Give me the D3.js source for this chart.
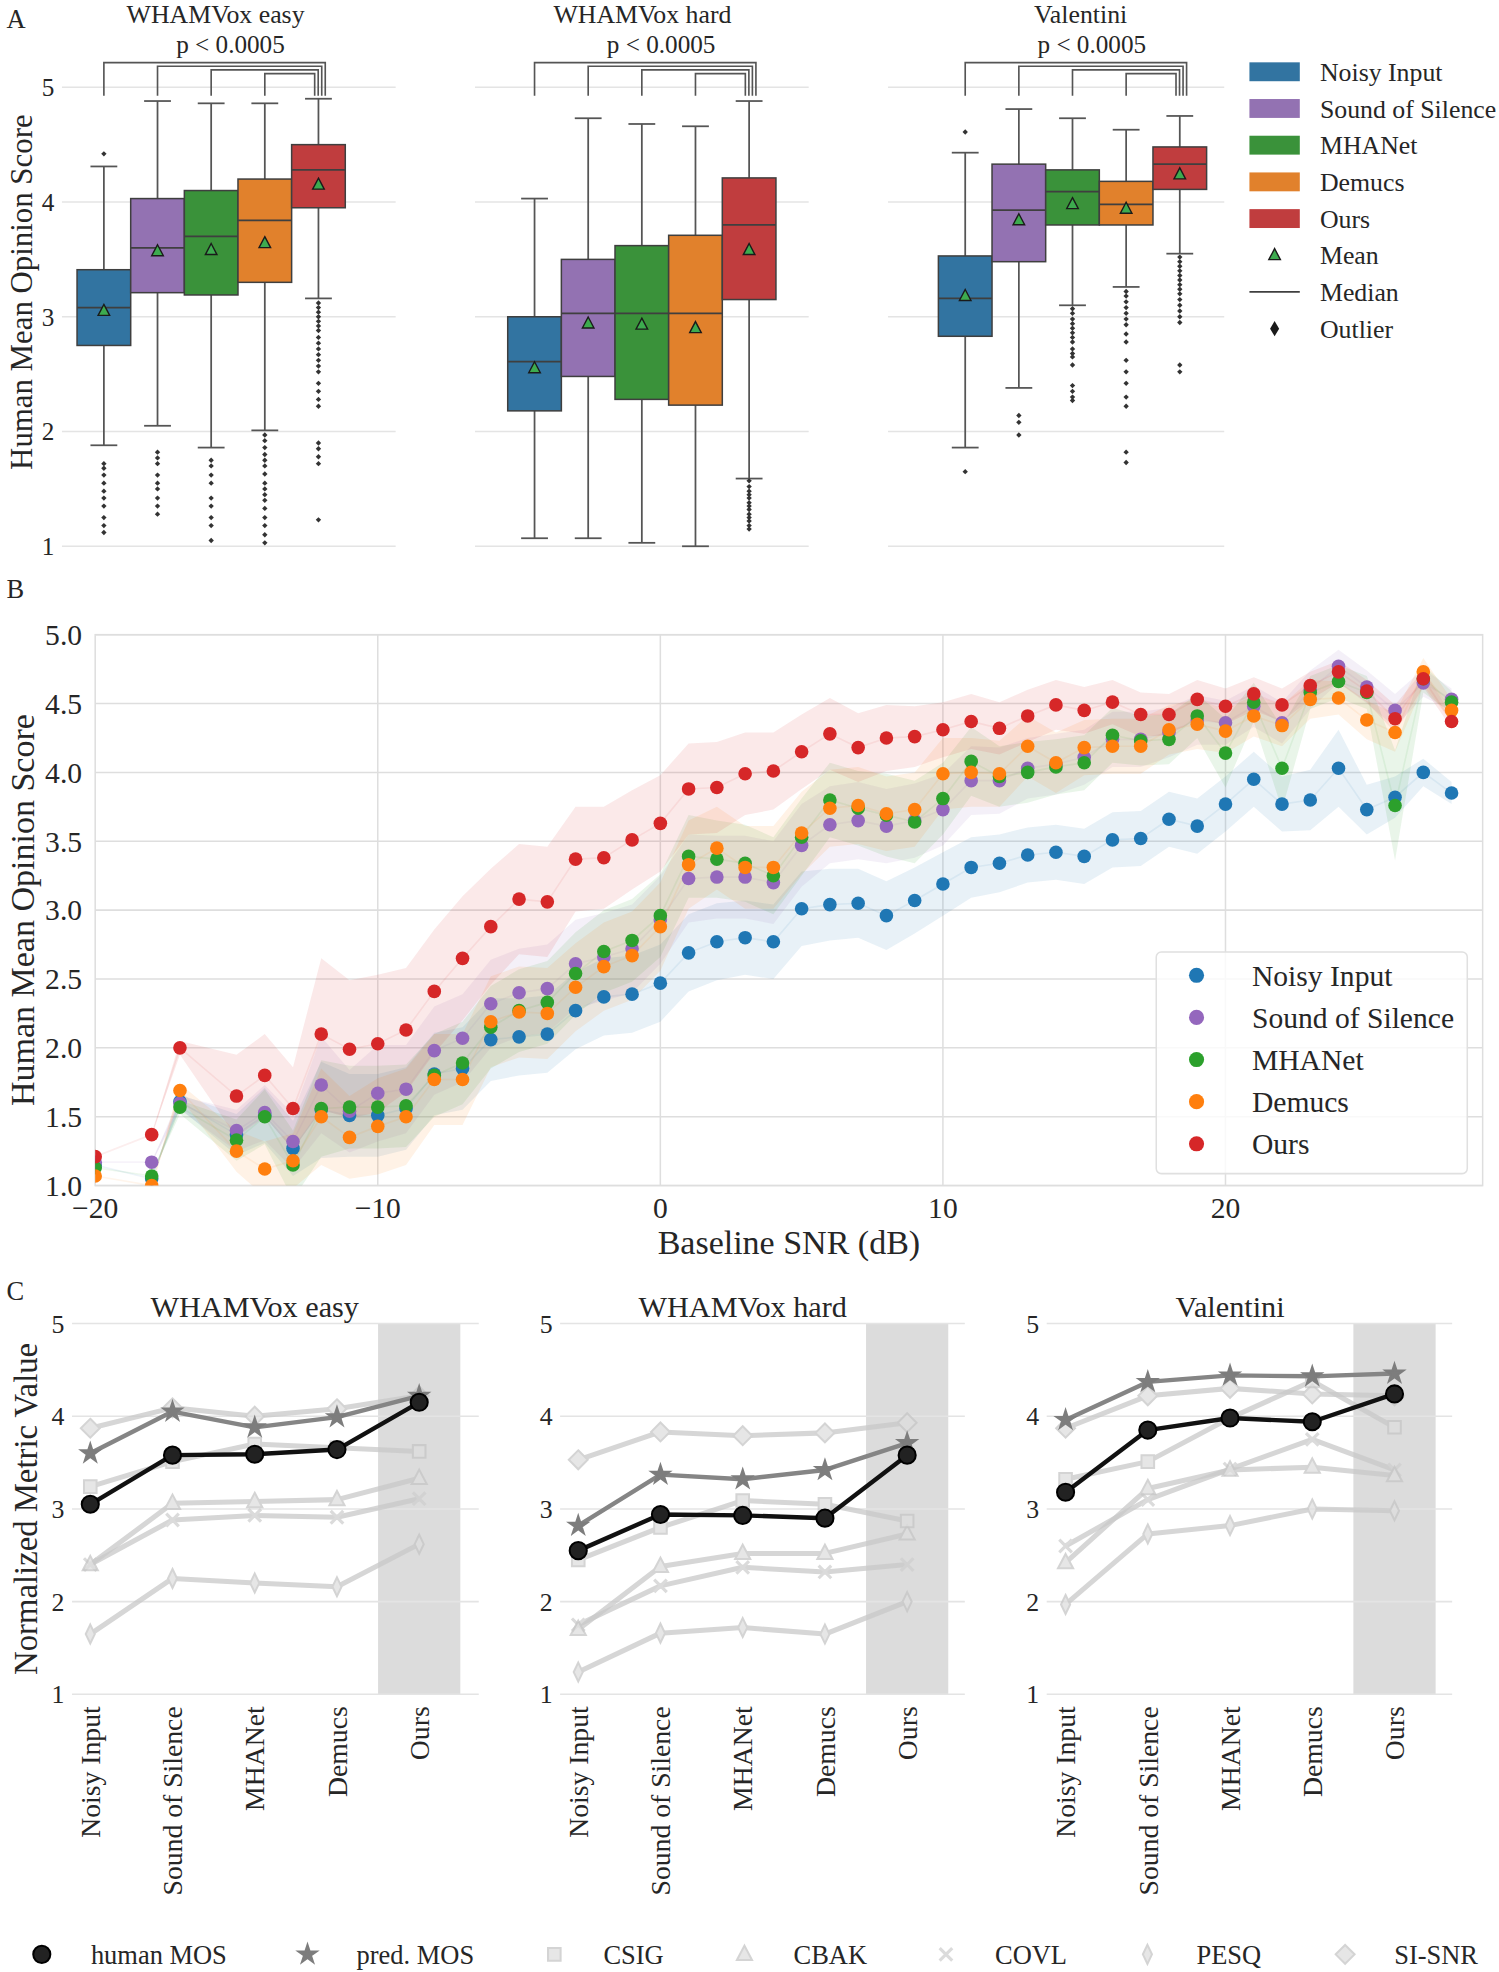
<!DOCTYPE html>
<html>
<head>
<meta charset="utf-8">
<script src="https://cdn.jsdelivr.net/npm/d3@7"></script>
<style>
  body { margin: 0; background: #fff; }
  svg { display: block; font-family: "Liberation Serif", "Times New Roman", serif; }
</style>
</head>
<body>
<div id="fig"></div>
<script>
/* Three-panel MOS figure: A box plots, B MOS vs SNR, C metric profiles */

// ---------- data ----------
const METHODS = ["Noisy Input", "Sound of Silence", "MHANet", "Demucs", "Ours"];
const DATASETS = ["WHAMVox easy", "WHAMVox hard", "Valentini"];

// box stats per method: [whisker low, q1, median, q3, whisker high, mean]
const boxEasy = [
  [1.88, 2.75, 3.08, 3.41, 4.31, 3.05],
  [2.05, 3.21, 3.60, 4.03, 4.88, 3.57],
  [1.86, 3.19, 3.70, 4.10, 4.86, 3.58],
  [2.01, 3.30, 3.84, 4.20, 4.86, 3.64],
  [3.16, 3.95, 4.28, 4.50, 4.90, 4.15]
];
const boxHard = [
  [1.07, 2.18, 2.61, 3.00, 4.03, 2.55],
  [1.07, 2.48, 3.03, 3.50, 4.73, 2.94],
  [1.03, 2.28, 3.03, 3.62, 4.68, 2.93],
  [1.00, 2.23, 3.03, 3.71, 4.66, 2.90],
  [1.59, 3.15, 3.80, 4.21, 4.88, 3.58]
];
const boxValentini = [
  [1.86, 2.83, 3.16, 3.53, 4.43, 3.18],
  [2.38, 3.48, 3.93, 4.33, 4.81, 3.84],
  [3.10, 3.80, 4.09, 4.28, 4.73, 3.98],
  [3.26, 3.80, 3.98, 4.18, 4.63, 3.94],
  [3.55, 4.11, 4.33, 4.48, 4.75, 4.24]
];
const outEasy = [
  [4.42, 1.72, 1.68, 1.62, 1.55, 1.48, 1.42, 1.35, 1.25, 1.18, 1.12],
  [1.82, 1.77, 1.72, 1.62, 1.55, 1.50, 1.42, 1.35, 1.28],
  [1.75, 1.70, 1.62, 1.55, 1.42, 1.35, 1.25, 1.18, 1.05],
  [1.97, 1.92, 1.86, 1.80, 1.75, 1.70, 1.63, 1.55, 1.50, 1.45, 1.40, 1.33, 1.25, 1.18, 1.10, 1.03],
  [3.12, 3.08, 3.04, 3.00, 2.96, 2.92, 2.88, 2.82, 2.77, 2.72, 2.67, 2.62, 2.57, 2.52, 2.42, 2.35, 2.28, 2.22, 1.90, 1.85, 1.78, 1.72, 1.23]
];
const outHard = [
  [], [], [], [],
  [1.57, 1.52, 1.48, 1.45, 1.42, 1.38, 1.35, 1.32, 1.28, 1.25, 1.22, 1.18, 1.15]
];
const outValentini = [
  [4.61, 1.65],
  [2.14, 2.08, 1.97],
  [3.07, 3.03, 2.98, 2.94, 2.90, 2.86, 2.82, 2.78, 2.72, 2.68, 2.65, 2.58, 2.40, 2.35, 2.30, 2.27],
  [3.22, 3.18, 3.13, 3.08, 3.03, 2.98, 2.93, 2.85, 2.78, 2.62, 2.52, 2.42, 2.30, 2.22, 1.82, 1.73],
  [3.52, 3.48, 3.44, 3.40, 3.36, 3.32, 3.28, 3.24, 3.20, 3.15, 3.10, 3.05, 3.00, 2.95, 2.58, 2.52]
];

// panel B: baseline SNR (dB) and mean MOS per method, with CI half-widths
const snrX = [-20, -18, -17, -15, -14, -13, -12, -11, -10,
  -9, -8, -7, -6, -5, -4, -3, -2, -1, 0,
  1, 2, 3, 4, 5, 6, 7, 8, 9, 10,
  11, 12, 13, 14, 15, 16, 17, 18, 19, 20,
  21, 22, 23, 24, 25, 26, 27, 28];
const mosNoisy = [1.15, 1.05, 1.61, 1.37, 1.51, 1.27, 1.55, 1.51, 1.51,
  1.56, 1.81, 1.85, 2.06, 2.08, 2.10, 2.27, 2.37, 2.39, 2.47,
  2.69, 2.77, 2.80, 2.77, 3.01, 3.04, 3.05, 2.96, 3.07, 3.19,
  3.31, 3.34, 3.40, 3.42, 3.39, 3.51, 3.52, 3.66, 3.61, 3.77,
  3.95, 3.77, 3.80, 4.03, 3.73, 3.82, 4.00, 3.85];
const mosSoS = [1.17, 1.17, 1.60, 1.40, 1.53, 1.32, 1.73, 1.54, 1.67,
  1.70, 1.98, 2.07, 2.32, 2.40, 2.43, 2.61, 2.66, 2.72, 2.93,
  3.23, 3.24, 3.24, 3.20, 3.47, 3.62, 3.65, 3.61, 3.65, 3.73,
  3.94, 3.94, 4.03, 4.06, 4.11, 4.24, 4.24, 4.29, 4.38, 4.36,
  4.48, 4.36, 4.60, 4.77, 4.62, 4.45, 4.65, 4.53];
const mosMHANet = [1.13, 1.07, 1.57, 1.33, 1.50, 1.15, 1.56, 1.57, 1.57,
  1.58, 1.80, 1.89, 2.15, 2.27, 2.33, 2.54, 2.70, 2.78, 2.96,
  3.39, 3.37, 3.34, 3.25, 3.53, 3.80, 3.74, 3.69, 3.64, 3.81,
  4.08, 3.97, 4.00, 4.04, 4.07, 4.27, 4.23, 4.24, 4.41, 4.14,
  4.51, 4.03, 4.58, 4.66, 4.58, 3.76, 4.68, 4.51];
const mosDemucs = [1.07, 1.00, 1.69, 1.25, 1.12, 1.18, 1.50, 1.35, 1.43,
  1.50, 1.77, 1.77, 2.19, 2.26, 2.25, 2.44, 2.59, 2.67, 2.88,
  3.33, 3.45, 3.31, 3.31, 3.56, 3.74, 3.76, 3.70, 3.73, 3.99,
  4.00, 3.99, 4.19, 4.07, 4.18, 4.19, 4.19, 4.31, 4.35, 4.30,
  4.41, 4.34, 4.53, 4.54, 4.38, 4.29, 4.73, 4.45];
const mosOurs = [1.21, 1.37, 2.00, 1.65, 1.80, 1.56, 2.10, 1.99, 2.03,
  2.13, 2.41, 2.65, 2.88, 3.08, 3.06, 3.37, 3.38, 3.51, 3.63,
  3.88, 3.89, 3.99, 4.01, 4.15, 4.28, 4.18, 4.25, 4.26, 4.31,
  4.37, 4.32, 4.41, 4.49, 4.45, 4.51, 4.42, 4.42, 4.53, 4.48,
  4.57, 4.49, 4.63, 4.73, 4.59, 4.39, 4.68, 4.37];
const ciNoisy = [0, 0, 0.05, 0.15, 0.2, 0.2, 0.35, 0.3, 0.3,
  0.3, 0.3, 0.3, 0.3, 0.28, 0.28, 0.28, 0.28, 0.28, 0.28,
  0.28, 0.28, 0.27, 0.27, 0.27, 0.26, 0.25, 0.25, 0.24, 0.23,
  0.22, 0.21, 0.2, 0.2, 0.2, 0.2, 0.2, 0.2, 0.2, 0.2,
  0.2, 0.2, 0.22, 0.28, 0.18, 0.15, 0.1, 0.08];
const ciSoS = [0, 0, 0.05, 0.15, 0.2, 0.2, 0.35, 0.3, 0.35,
  0.32, 0.32, 0.32, 0.32, 0.32, 0.32, 0.32, 0.32, 0.32, 0.32,
  0.32, 0.3, 0.3, 0.3, 0.3, 0.28, 0.28, 0.27, 0.27, 0.26,
  0.25, 0.24, 0.22, 0.22, 0.2, 0.2, 0.2, 0.18, 0.18, 0.16,
  0.15, 0.15, 0.14, 0.12, 0.12, 0.12, 0.1, 0.08];
const ciMHANet = [0, 0, 0.05, 0.15, 0.2, 0.25, 0.35, 0.3, 0.3,
  0.3, 0.3, 0.3, 0.3, 0.3, 0.3, 0.3, 0.3, 0.3, 0.3,
  0.3, 0.28, 0.28, 0.28, 0.28, 0.27, 0.27, 0.3, 0.3, 0.26,
  0.25, 0.22, 0.22, 0.2, 0.2, 0.2, 0.18, 0.18, 0.16, 0.25,
  0.14, 0.3, 0.12, 0.12, 0.12, 0.4, 0.1, 0.08];
const ciDemucs = [0, 0, 0.05, 0.15, 0.2, 0.2, 0.35, 0.3, 0.35,
  0.35, 0.33, 0.33, 0.33, 0.33, 0.33, 0.32, 0.32, 0.32, 0.32,
  0.32, 0.3, 0.3, 0.3, 0.3, 0.28, 0.28, 0.27, 0.27, 0.26,
  0.25, 0.24, 0.22, 0.22, 0.2, 0.2, 0.2, 0.18, 0.18, 0.16,
  0.15, 0.15, 0.14, 0.12, 0.14, 0.14, 0.1, 0.08];
const ciOurs = [0, 0, 0.05, 0.3, 0.3, 0.3, 0.55, 0.5, 0.5,
  0.45, 0.45, 0.45, 0.42, 0.4, 0.4, 0.38, 0.37, 0.36, 0.35,
  0.33, 0.33, 0.3, 0.28, 0.27, 0.26, 0.25, 0.24, 0.22, 0.2,
  0.2, 0.19, 0.19, 0.18, 0.17, 0.16, 0.16, 0.15, 0.14, 0.13,
  0.12, 0.12, 0.1, 0.08, 0.08, 0.1, 0.06, 0.05];

// panel C: normalized metric values, one row per metric (order of METRICS)
const METRICS = ["human MOS", "pred. MOS", "CSIG", "CBAK", "COVL", "PESQ", "SI-SNR"];
const metricsEasy = [
  [3.05, 3.58, 3.59, 3.64, 4.15],
  [3.60, 4.05, 3.88, 3.99, 4.22],
  [3.24, 3.51, 3.70, 3.66, 3.62],
  [2.40, 3.06, 3.08, 3.10, 3.33],
  [2.40, 2.88, 2.93, 2.91, 3.11],
  [1.65, 2.25, 2.20, 2.16, 2.62],
  [3.87, 4.09, 4.00, 4.08, 4.22]
];
const metricsHard = [
  [2.55, 2.94, 2.93, 2.90, 3.58],
  [2.82, 3.37, 3.32, 3.42, 3.71],
  [2.45, 2.80, 3.09, 3.05, 2.87],
  [1.70, 2.38, 2.52, 2.52, 2.73],
  [1.75, 2.17, 2.37, 2.32, 2.40],
  [1.24, 1.66, 1.72, 1.65, 2.00],
  [3.53, 3.83, 3.79, 3.82, 3.93]
];
const metricsValentini = [
  [3.18, 3.85, 3.98, 3.94, 4.24],
  [3.96, 4.37, 4.44, 4.43, 4.46],
  [3.32, 3.51, 3.98, 4.38, 3.88],
  [2.42, 3.22, 3.42, 3.45, 3.36],
  [2.60, 3.10, 3.43, 3.75, 3.42],
  [1.97, 2.73, 2.82, 3.00, 2.98],
  [3.87, 4.22, 4.30, 4.24, 4.22]
];

// ---------- styling ----------
const BOX_COLORS = ["#3274a1", "#9372b2", "#3a923a", "#e1812c", "#c03d3e"];
const DOT_COLORS = ["#1f77b4", "#9467bd", "#2ca02c", "#ff7f0e", "#d62728"];
const GRID = "#e4e4e4";
const INK = "#262626";

const W = 1190, H = 1566;
const svg = d3.select("#fig").append("svg")
  .attr("width", 1499).attr("height", 1972)
  .attr("viewBox", `0 0 ${W} ${H}`);

function txt(g, x, y, s, size, anchor) {
  return g.append("text").attr("x", x).attr("y", y)
    .attr("font-size", size).attr("fill", INK)
    .attr("text-anchor", anchor || "start").text(s);
}

function marker(type, r) {
  switch (type) {
    case "circle": return d3.symbol(d3.symbolCircle, Math.PI * r * r)();
    case "star": return d3.symbol(d3.symbolStar, r * r * 1.25)();
    case "square": return `M${-r},${-r}H${r}V${r}H${-r}Z`;
    case "triangle": return `M0,${-r * 1.15}L${r},${r * 0.75}L${-r},${r * 0.75}Z`;
    case "x": return `M${-r},${-r}L${r},${r}M${-r},${r}L${r},${-r}`;
    case "thin_diamond": return `M0,${-r * 1.25}L${r * 0.6},0L0,${r * 1.25}L${-r * 0.6},0Z`;
    case "diamond": return `M0,${-r * 1.25}L${r * 1.25},0L0,${r * 1.25}L${-r * 1.25},0Z`;
  }
}

// panel letters
txt(svg, 5, 22, "A", 21);
txt(svg, 5, 475, "B", 21);
txt(svg, 5, 1032, "C", 21);

// =================== Panel A ===================
const yA = d3.scaleLinear().domain([1, 5]).range([433.8, 69.3]);
const panelsA = [
  { grid: [49, 314], boxes: [61, 274], stats: boxEasy, out: outEasy, tx: 171 },
  { grid: [377, 642], boxes: [403, 616], stats: boxHard, out: outHard, tx: 510 },
  { grid: [705, 972], boxes: [745, 958], stats: boxValentini, out: outValentini, tx: 858 }
];

panelsA.forEach((p, k) => {
  const g = svg.append("g");
  const x = d3.scaleBand().domain(METHODS).range(p.boxes);
  const bw = x.bandwidth();
  const cx = m => x(m) + bw / 2;

  g.selectAll("line.grid").data(d3.range(1, 6)).join("line")
    .attr("x1", p.grid[0]).attr("x2", p.grid[1])
    .attr("y1", d => yA(d)).attr("y2", d => yA(d))
    .attr("stroke", GRID).attr("stroke-width", 1.2);

  if (k === 0) {
    g.selectAll("text.tick").data(d3.range(1, 6)).join("text")
      .attr("x", 43).attr("y", d => yA(d)).attr("dy", "0.35em")
      .attr("text-anchor", "end").attr("font-size", 20).attr("fill", INK)
      .text(d => d);
  }

  txt(g, p.tx, 18.5, DATASETS[k], 20.5, "middle");
  txt(g, cx("Ours") - 1.64 * bw, 42, "p < 0.0005", 20, "middle");

  // significance brackets: each method against Ours
  for (let j = 0; j < 4; j++) {
    const xl = cx(METHODS[j]);
    const xr = cx("Ours") + (3 - j) * 2.8 - 3;
    const top = yA(5.215 - 0.032 * j), bot = yA(4.925);
    g.append("path")
      .attr("d", `M${xl},${bot}V${top}H${xr}V${bot}`)
      .attr("fill", "none").attr("stroke", "#555").attr("stroke-width", 1.3);
  }

  METHODS.forEach((m, i) => {
    const [wl, q1, med, q3, wh, mean] = p.stats[i];
    const c = cx(m);
    const bg = g.append("g");
    bg.append("line").attr("x1", c).attr("x2", c).attr("y1", yA(q3)).attr("y2", yA(wh))
      .attr("stroke", "#555").attr("stroke-width", 1.4);
    bg.append("line").attr("x1", c).attr("x2", c).attr("y1", yA(q1)).attr("y2", yA(wl))
      .attr("stroke", "#555").attr("stroke-width", 1.4);
    [wl, wh].forEach(v => bg.append("line")
      .attr("x1", c - bw / 4).attr("x2", c + bw / 4).attr("y1", yA(v)).attr("y2", yA(v))
      .attr("stroke", "#555").attr("stroke-width", 1.4));
    bg.append("rect").attr("x", x(m)).attr("width", bw)
      .attr("y", yA(q3)).attr("height", yA(q1) - yA(q3))
      .attr("fill", BOX_COLORS[i]).attr("stroke", "#3f3f3f").attr("stroke-width", 1.2);
    bg.append("line").attr("x1", x(m)).attr("x2", x(m) + bw)
      .attr("y1", yA(med)).attr("y2", yA(med))
      .attr("stroke", "#3f3f3f").attr("stroke-width", 1.4);
    bg.append("path").attr("d", marker("triangle", 4.6))
      .attr("transform", `translate(${c},${yA(mean)})`)
      .attr("fill", "#3dab4f").attr("stroke", "#1a1a1a").attr("stroke-width", 1.1);
    bg.selectAll("path.out").data(p.out[i]).join("path")
      .attr("d", marker("diamond", 1.7))
      .attr("transform", d => `translate(${c},${yA(d)})`)
      .attr("fill", "#333");
  });
});

// y label A
svg.append("text").attr("transform", "translate(17,232) rotate(-90)")
  .attr("text-anchor", "middle").attr("dy", "0.35em")
  .attr("font-size", 24.5).attr("fill", INK).text("Human Mean Opinion Score");

// legend A
{
  const lg = svg.append("g");
  const rows = d3.scalePoint().domain(d3.range(8)).range([57, 261]);
  METHODS.forEach((m, i) => {
    lg.append("rect").attr("x", 992).attr("y", rows(i) - 7.5).attr("width", 40).attr("height", 15)
      .attr("fill", BOX_COLORS[i]);
    txt(lg, 1048, rows(i), m, 20.5).attr("dy", "0.35em");
  });
  lg.append("path").attr("d", marker("triangle", 4.6))
    .attr("transform", `translate(1012,${rows(5)})`)
    .attr("fill", "#3dab4f").attr("stroke", "#1a1a1a").attr("stroke-width", 1.1);
  txt(lg, 1048, rows(5), "Mean", 20.5).attr("dy", "0.35em");
  lg.append("line").attr("x1", 992).attr("x2", 1032).attr("y1", rows(6)).attr("y2", rows(6))
    .attr("stroke", "#3f3f3f").attr("stroke-width", 1.4);
  txt(lg, 1048, rows(6), "Median", 20.5).attr("dy", "0.35em");
  lg.append("path").attr("d", "M0,-6L3.6,0L0,6L-3.6,0Z")
    .attr("transform", `translate(1012,${rows(7)})`).attr("fill", "#1a1a1a");
  txt(lg, 1048, rows(7), "Outlier", 20.5).attr("dy", "0.35em");
}

// =================== Panel B ===================
{
  const xB = d3.scaleLinear().domain([-20, 29.1]).range([75.4, 1177.2]);
  const yB = d3.scaleLinear().domain([1, 5]).range([941.5, 504]);
  const g = svg.append("g");
  const [x0, x1] = xB.range(), [y1, y0] = yB.range();

  g.append("clipPath").attr("id", "clipB").append("rect")
    .attr("x", x0).attr("y", y0).attr("width", x1 - x0).attr("height", y1 - y0);

  g.selectAll("line.hg").data(d3.range(1, 5.01, 0.5)).join("line")
    .attr("x1", x0).attr("x2", x1).attr("y1", d => yB(d)).attr("y2", d => yB(d))
    .attr("stroke", "#dedede").attr("stroke-width", 1.2);
  g.selectAll("line.vg").data([-10, 0, 10, 20]).join("line")
    .attr("x1", d => xB(d)).attr("x2", d => xB(d)).attr("y1", y0).attr("y2", y1)
    .attr("stroke", "#dedede").attr("stroke-width", 1.2);
  g.append("rect").attr("x", x0).attr("y", y0).attr("width", x1 - x0).attr("height", y1 - y0)
    .attr("fill", "none").attr("stroke", "#dedede").attr("stroke-width", 1.2);

  g.selectAll("text.yt").data(d3.range(1, 5.01, 0.5)).join("text")
    .attr("x", 65).attr("y", d => yB(d)).attr("dy", "0.35em")
    .attr("text-anchor", "end").attr("font-size", 23.5).attr("fill", INK)
    .text(d => d.toFixed(1));
  g.selectAll("text.xt").data([-20, -10, 0, 10, 20]).join("text")
    .attr("x", d => xB(d)).attr("y", 967)
    .attr("text-anchor", "middle").attr("font-size", 23.5).attr("fill", INK)
    .text(d => (d < 0 ? "\u2212" + Math.abs(d) : d));
  txt(g, (x0 + x1) / 2, 996, "Baseline SNR (dB)", 27, "middle");
  g.append("text").attr("transform", `translate(17,${(y0 + y1) / 2}) rotate(-90)`)
    .attr("text-anchor", "middle").attr("dy", "0.35em")
    .attr("font-size", 27).attr("fill", INK).text("Human Mean Opinion Score");

  const series = [
    { mos: mosNoisy, ci: ciNoisy },
    { mos: mosSoS, ci: ciSoS },
    { mos: mosMHANet, ci: ciMHANet },
    { mos: mosDemucs, ci: ciDemucs },
    { mos: mosOurs, ci: ciOurs }
  ];
  const plot = g.append("g").attr("clip-path", "url(#clipB)");
  series.forEach((s, i) => {
    const pts = snrX.map((x, k) => ({ x, v: s.mos[k], h: s.ci[k] }));
    plot.append("path").datum(pts)
      .attr("d", d3.area().x(d => xB(d.x)).y0(d => yB(d.v - d.h)).y1(d => yB(d.v + d.h)))
      .attr("fill", DOT_COLORS[i]).attr("fill-opacity", 0.1);
    plot.append("path").datum(pts)
      .attr("d", d3.line().x(d => xB(d.x)).y(d => yB(d.v)))
      .attr("fill", "none").attr("stroke", DOT_COLORS[i])
      .attr("stroke-opacity", 0.08).attr("stroke-width", 1.3);
  });
  series.forEach((s, i) => {
    plot.selectAll(null).data(snrX.map((x, k) => ({ x, v: s.mos[k] }))).join("circle")
      .attr("cx", d => xB(d.x)).attr("cy", d => yB(d.v)).attr("r", 5.4)
      .attr("fill", DOT_COLORS[i]);
  });

  // legend B
  const lg = g.append("g");
  lg.append("rect").attr("x", 918).attr("y", 756).attr("width", 247).attr("height", 176)
    .attr("rx", 4).attr("fill", "#fff").attr("fill-opacity", 0.8)
    .attr("stroke", "#e0e0e0").attr("stroke-width", 1.2);
  METHODS.forEach((m, i) => {
    const yy = 774.5 + i * 33.45;
    lg.append("circle").attr("cx", 950).attr("cy", yy).attr("r", 6).attr("fill", DOT_COLORS[i]);
    txt(lg, 994, yy, m, 23.5).attr("dy", "0.35em");
  });
}

// =================== Panel C ===================
const yC = d3.scaleLinear().domain([1, 5]).range([1345.5, 1051]);
const METRIC_STYLE = [
  { sym: "circle", r: 6.8, line: "#111", lw: 3.5, fill: "#222", stroke: "#000", op: 1 },
  { sym: "star", r: 7.2, line: "#858585", lw: 3.5, fill: "#7d7d7d", stroke: "#7d7d7d", op: 1 },
  { sym: "square", r: 5, line: "#c9c9c9", lw: 4, fill: "#dedede", stroke: "#c6c6c6", op: 0.75 },
  { sym: "triangle", r: 6, line: "#c9c9c9", lw: 4, fill: "#dedede", stroke: "#c6c6c6", op: 0.75 },
  { sym: "x", r: 5, line: "#c9c9c9", lw: 4, fill: "none", stroke: "#cfcfcf", op: 0.75 },
  { sym: "thin_diamond", r: 6, line: "#c9c9c9", lw: 4, fill: "#dedede", stroke: "#c6c6c6", op: 0.75 },
  { sym: "diamond", r: 6, line: "#c9c9c9", lw: 4, fill: "#dedede", stroke: "#c6c6c6", op: 0.75 }
];
const panelsC = [
  { start: 71.5, grid: [57, 380], rows: metricsEasy },
  { start: 459, grid: [444.6, 766], rows: metricsHard },
  { start: 846, grid: [831, 1153], rows: metricsValentini }
];
const stepC = 65.3;

panelsC.forEach((p, k) => {
  const g = svg.append("g");
  const x = d3.scalePoint().domain(METHODS).range([p.start, p.start + 4 * stepC]);

  g.append("rect").attr("x", x("Ours") - stepC / 2).attr("width", stepC)
    .attr("y", yC(5)).attr("height", yC(1) - yC(5)).attr("fill", "#dcdcdc");
  g.selectAll("line.grid").data(d3.range(1, 6)).join("line")
    .attr("x1", p.grid[0]).attr("x2", p.grid[1])
    .attr("y1", d => yC(d)).attr("y2", d => yC(d))
    .attr("stroke", GRID).attr("stroke-width", 1.2);
  g.selectAll("text.tick").data(d3.range(1, 6)).join("text")
    .attr("x", p.grid[0] - 6).attr("y", d => yC(d)).attr("dy", "0.35em")
    .attr("text-anchor", "end").attr("font-size", 20.5).attr("fill", INK)
    .text(d => d);
  g.selectAll("text.xt").data(METHODS).join("text")
    .attr("transform", d => `translate(${x(d)},1355) rotate(-90)`)
    .attr("text-anchor", "end").attr("dy", "0.35em")
    .attr("font-size", 22).attr("fill", INK).text(d => d);
  txt(g, p.start + 2 * stepC, 1046, DATASETS[k], 24, "middle");

  // draw faint metrics first, then pred. MOS, then human MOS on top
  for (let mi = METRICS.length - 1; mi >= 0; mi--) {
    const st = METRIC_STYLE[mi];
    const vals = p.rows[mi];
    const mg = g.append("g").attr("opacity", st.op);
    mg.append("path").datum(vals)
      .attr("d", d3.line().x((d, i) => x(METHODS[i])).y(d => yC(d)))
      .attr("fill", "none").attr("stroke", st.line).attr("stroke-width", st.lw)
      .attr("stroke-linejoin", "round");
    mg.selectAll("path.mk").data(vals).join("path")
      .attr("d", marker(st.sym, st.r))
      .attr("transform", (d, i) => `translate(${x(METHODS[i])},${yC(d)})`)
      .attr("fill", st.fill).attr("stroke", st.stroke)
      .attr("stroke-width", st.sym === "x" ? 2.5 : 1.6);
  }
});

svg.append("text").attr("transform", `translate(20,${(yC(1) + yC(5)) / 2}) rotate(-90)`)
  .attr("text-anchor", "middle").attr("dy", "0.35em")
  .attr("font-size", 26).attr("fill", INK).text("Normalized Metric Value");

// bottom legend
{
  const lg = svg.append("g");
  const lx = [33, 244, 440, 591, 751, 911, 1068];
  METRICS.forEach((m, i) => {
    const st = METRIC_STYLE[i];
    lg.append("path").attr("d", marker(st.sym, st.r))
      .attr("transform", `translate(${lx[i]},1552)`)
      .attr("fill", st.fill).attr("stroke", st.stroke)
      .attr("stroke-width", st.sym === "x" ? 2.5 : 1.6).attr("opacity", st.op);
    txt(lg, lx[i] + 39, 1552, m, 21).attr("dy", "0.35em");
  });
}
</script>
</body>
</html>
